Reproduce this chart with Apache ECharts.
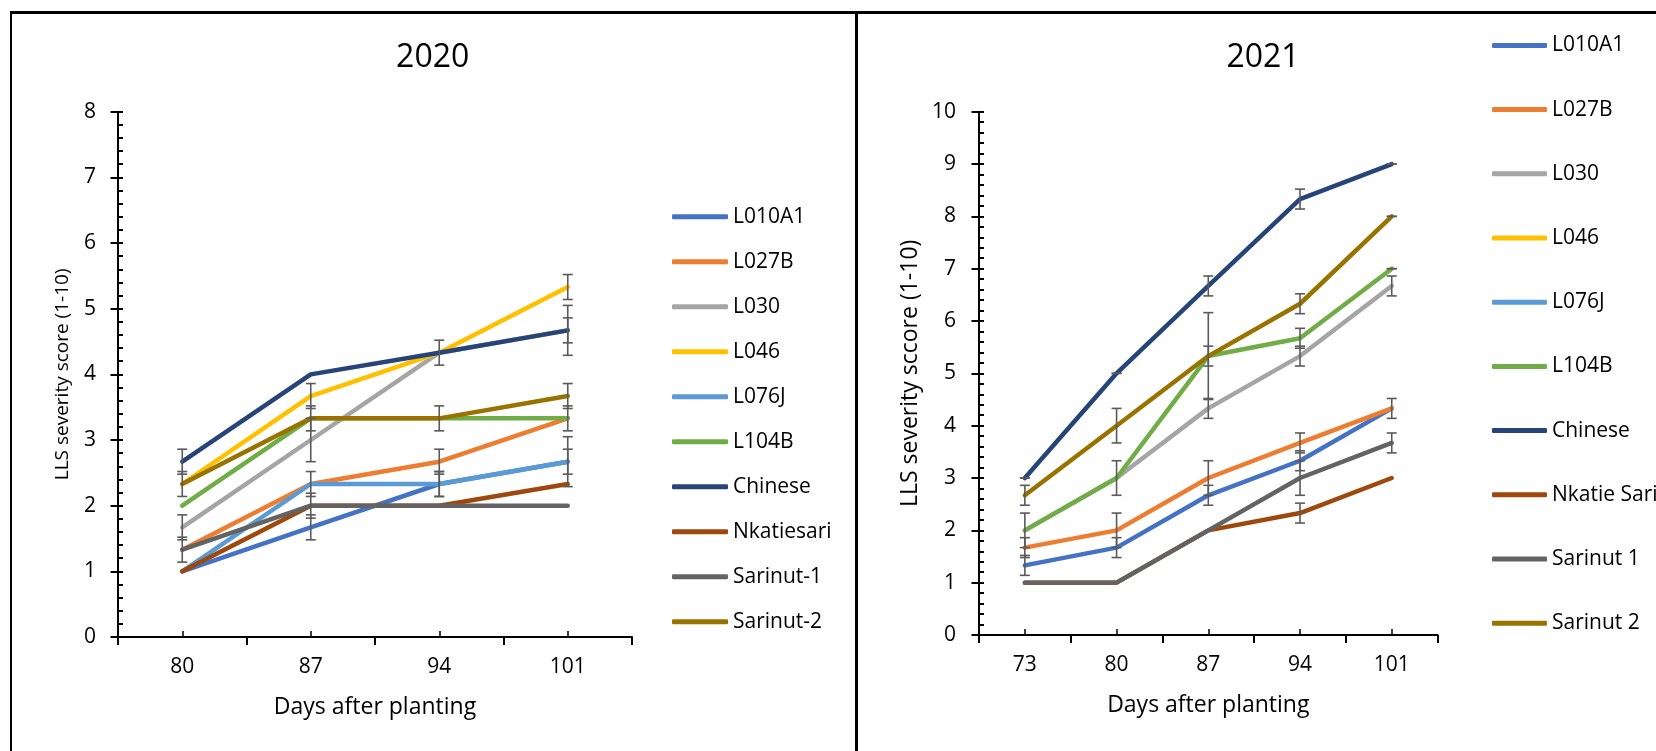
<!DOCTYPE html>
<html>
<head>
<meta charset="utf-8">
<script src="https://cdn.jsdelivr.net/npm/echarts@6/dist/echarts.min.js"></script>
<style>
  body { margin: 0; background: #fff; }
  #chart { width: 1656px; height: 751px; }
  .frame { position: absolute; background: #000; }
</style>
</head>
<body>
<div id="chart"></div>
<div class="frame" style="left:10px; top:11px; width:1646px; height:3px;"></div>
<div class="frame" style="left:10px; top:11px; width:2px; height:740px;"></div>
<div class="frame" style="left:855px; top:11px; width:3px; height:740px;"></div>
<script>
// x categories
const days2020 = ['80', '87', '94', '101'];
const days2021 = ['73', '80', '87', '94', '101'];

// legend names (spelled as in each panel)
const names2020 = ['L010A1', 'L027B', 'L030', 'L046', 'L076J', 'L104B', 'Chinese', 'Nkatiesari', 'Sarinut-1', 'Sarinut-2'];
const names2021 = ['L010A1', 'L027B', 'L030', 'L046', 'L076J', 'L104B', 'Chinese', 'Nkatie Sari', 'Sarinut 1', 'Sarinut 2'];

const colors = ['#4472C4', '#ED7D31', '#A5A5A5', '#FFC000', '#5B9BD5', '#70AD47', '#264478', '#9E480E', '#636363', '#997300'];

// 2020 scores
const l010a1_2020 = [1, 1.67, 2.33, 2.67];
const l027b_2020 = [1.33, 2.33, 2.67, 3.33];
const l030_2020 = [1.67, 3, 4.33, 4.67];
const l046_2020 = [2.33, 3.67, 4.33, 5.33];
const l076j_2020 = [1, 2.33, 2.33, 2.67];
const l104b_2020 = [2, 3.33, 3.33, 3.33];
const chinese_2020 = [2.67, 4, 4.33, 4.67];
const nkatie_2020 = [1, 2, 2, 2.33];
const sarinut1_2020 = [1.33, 2, 2, 2];
const sarinut2_2020 = [2.33, 3.33, 3.33, 3.67];

// 2020 error bar half widths (null = no bar)
const l010a1_err2020 = [null, 0.19, 0.19, 0.38];
const l027b_err2020 = [null, 0.19, 0.19, 0.19];
const l030_err2020 = [0.19, 0.33, 0.19, 0.38];
const l046_err2020 = [null, 0.19, null, 0.19];
const l076j_err2020 = [null, null, 0.19, 0.19];
const l104b_err2020 = [null, null, null, null];
const chinese_err2020 = [0.19, null, null, 0.19];
const nkatie_err2020 = [null, null, null, null];
const sarinut1_err2020 = [0.19, 0.19, null, null];
const sarinut2_err2020 = [0.19, 0.19, 0.19, 0.19];

// 2021 scores (L046 and L076J are not visible in this panel)
const l010a1_2021 = [1.33, 1.67, 2.67, 3.33, 4.33];
const l027b_2021 = [1.67, 2, 3, 3.67, 4.33];
const l030_2021 = [2, 3, 4.33, 5.33, 6.67];
const l046_2021 = [];
const l076j_2021 = [];
const l104b_2021 = [2, 3, 5.33, 5.67, 7];
const chinese_2021 = [3, 5, 6.67, 8.33, 9];
const nkatie_2021 = [1, 1, 2, 2.33, 3];
const sarinut1_2021 = [1, 1, 2, 3, 3.67];
const sarinut2_2021 = [2.67, 4, 5.33, 6.33, 8];

const l010a1_err2021 = [0.19, 0.19, 0.19, 0.19, null];
const l027b_err2021 = [0.19, 0.33, 0.33, 0.19, 0.19];
const l030_err2021 = [null, null, 0.19, 0.19, 0.19];
const l046_err2021 = [];
const l076j_err2021 = [];
const l104b_err2021 = [0.33, 0.33, 0.19, 0.19, 0];
const chinese_err2021 = [0, 0, 0.19, 0.19, 0];
const nkatie_err2021 = [null, null, null, 0.19, null];
const sarinut1_err2021 = [null, null, null, 0.33, 0.19];
const sarinut2_err2021 = [0.19, 0.33, 0.83, 0.19, 0];

const vals2020 = [l010a1_2020, l027b_2020, l030_2020, l046_2020, l076j_2020, l104b_2020, chinese_2020, nkatie_2020, sarinut1_2020, sarinut2_2020];
const errs2020 = [l010a1_err2020, l027b_err2020, l030_err2020, l046_err2020, l076j_err2020, l104b_err2020, chinese_err2020, nkatie_err2020, sarinut1_err2020, sarinut2_err2020];
const vals2021 = [l010a1_2021, l027b_2021, l030_2021, l046_2021, l076j_2021, l104b_2021, chinese_2021, nkatie_2021, sarinut1_2021, sarinut2_2021];
const errs2021 = [l010a1_err2021, l027b_err2021, l030_err2021, l046_err2021, l076j_err2021, l104b_err2021, chinese_err2021, nkatie_err2021, sarinut1_err2021, sarinut2_err2021];

const FONT = '"Open Sans", "Noto Sans", sans-serif';

function errBars(vals, errs) {
  let out = [];
  vals.forEach(function (v, i) {
    v.forEach(function (y, j) {
      let e = errs[i][j];
      if (e === null || e === undefined) return;
      out.push([j, y - e, y + e]);
    });
  });
  return out;
}

function renderErr(params, api) {
  let lo = api.coord([api.value(0), api.value(1)]);
  let hi = api.coord([api.value(0), api.value(2)]);
  let w = 5;
  let st = { stroke: '#5a5a5a', lineWidth: 1.6 };
  return {
    type: 'group',
    children: [
      { type: 'line', shape: { x1: lo[0], y1: lo[1], x2: hi[0], y2: hi[1] }, style: st },
      { type: 'line', shape: { x1: lo[0] - w, y1: lo[1], x2: lo[0] + w, y2: lo[1] }, style: st },
      { type: 'line', shape: { x1: hi[0] - w, y1: hi[1], x2: hi[0] + w, y2: hi[1] }, style: st }
    ]
  };
}

function lineSeries(names, vals, xi, yi) {
  return names.map(function (n, i) {
    return {
      name: n,
      type: 'line',
      xAxisIndex: xi,
      yAxisIndex: yi,
      data: vals[i],
      symbol: 'none',
      color: colors[i],
      lineStyle: { width: 4.5, color: colors[i], cap: 'round', join: 'round' },
      emphasis: { disabled: true },
      z: 2
    };
  });
}

// main axes + overlay axes (for crossing/inside ticks like Excel)
function catAxes(cats, grid) {
  return [
    {
      type: 'category', gridIndex: grid, data: cats, boundaryGap: true,
      axisLine: { lineStyle: { color: '#000', width: 2 } },
      axisTick: { show: true, length: 8, lineStyle: { color: '#000', width: 2 } },
      axisLabel: { color: '#000', fontSize: 21, fontFamily: FONT, margin: 20 },
      name: 'Days after planting', nameLocation: 'middle', nameGap: 59,
      nameTextStyle: { color: '#000', fontSize: 23, fontFamily: FONT },
      splitLine: { show: false }
    },
    {
      type: 'category', gridIndex: grid, data: cats, boundaryGap: true, position: 'bottom',
      axisLine: { show: false },
      axisTick: { show: true, inside: true, alignWithLabel: true, length: 6, lineStyle: { color: '#000', width: 1.5 } },
      axisLabel: { show: false },
      splitLine: { show: false }
    }
  ];
}

function valAxes(max, grid, title, titleSize, gap, labelMargin) {
  return [
    {
      type: 'value', gridIndex: grid, min: 0, max: max, interval: 1, position: 'left',
      axisLine: { show: true, lineStyle: { color: '#000', width: 2 } },
      axisTick: { show: true, length: 7.5, lineStyle: { color: '#000', width: 2 } },
      axisLabel: { color: '#000', fontSize: 21, fontFamily: FONT, margin: labelMargin },
      splitLine: { show: false },
      name: title, nameLocation: 'middle', nameGap: gap,
      nameTextStyle: { color: '#000', fontSize: titleSize, fontFamily: FONT }
    },
    {
      type: 'value', gridIndex: grid, min: 0, max: max, interval: 1, position: 'left', offset: 0,
      axisLine: { show: false },
      axisTick: { show: true, inside: true, length: 5, lineStyle: { color: '#000', width: 2 } },
      minorTick: { show: true, splitNumber: 5, length: 5, lineStyle: { color: '#000', width: 2 } },
      axisLabel: { show: false },
      splitLine: { show: false }
    }
  ];
}

function legendFor(names, left, top, gap, width) {
  return {
    data: names, orient: 'vertical', left: left, top: top, padding: 0,
    itemWidth: width, itemHeight: 5, itemGap: gap, icon: 'roundRect',
    selectedMode: false,
    itemStyle: { borderWidth: 0 },
    lineStyle: { width: 0 },
    textStyle: { color: '#000', fontSize: 21, lineHeight: 22, fontFamily: FONT }
  };
}

let chart = echarts.init(document.getElementById('chart'));

let series = []
  .concat(lineSeries(names2020, vals2020, 0, 0))
  .concat(lineSeries(names2021, vals2021, 2, 2));

series.push({
  type: 'custom', name: 'err2020', xAxisIndex: 0, yAxisIndex: 0,
  data: errBars(vals2020, errs2020), renderItem: renderErr, z: 3, silent: true
});
series.push({
  type: 'custom', name: 'err2021', xAxisIndex: 2, yAxisIndex: 2,
  data: errBars(vals2021, errs2021), renderItem: renderErr, z: 3, silent: true
});

chart.setOption({
  animation: false,
  backgroundColor: '#fff',
  grid: [
    { left: 118, top: 111.7, width: 514, height: 525.3 },
    { left: 979, top: 111.7, width: 458.6, height: 523.3 }
  ],
  xAxis: catAxes(days2020, 0).concat(catAxes(days2021, 1)),
  yAxis: valAxes(8, 0, 'LLS severity score (1-10)', 19, 46, 22)
    .concat(valAxes(10, 1, 'LLS severity sccore (1-10)', 23, 57, 23)),
  legend: [
    legendFor(names2020, 672, 205.7, 23, 56),
    legendFor(names2021, 1492, 34.4, 42.2, 55)
  ],
  graphic: [
    { type: 'text', x: 432.7, y: 58, style: { text: '2020', fill: '#000', font: '32px ' + FONT, align: 'center', verticalAlign: 'middle' } },
    { type: 'text', x: 1263, y: 58, style: { text: '2021', fill: '#000', font: '32px ' + FONT, align: 'center', verticalAlign: 'middle' } }
  ],
  series: series
});
</script>
</body>
</html>
